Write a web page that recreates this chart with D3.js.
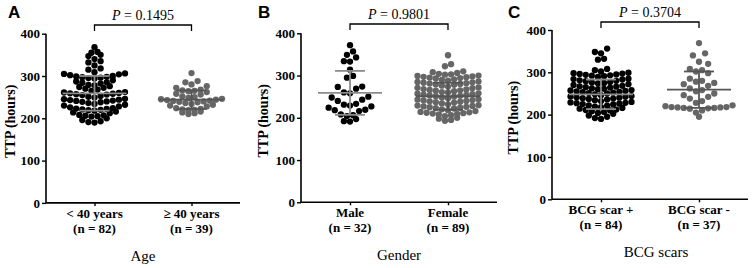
<!DOCTYPE html>
<html><head><meta charset="utf-8">
<script src="https://cdn.jsdelivr.net/npm/d3@7"></script>
<style>body{margin:0;background:#fff}svg{display:block}</style>
</head><body><svg id="c" width="752" height="268"></svg>
<script>
// ---------- DATA ----------
const panelLetters = ["A", "B", "C"];
const axisTitles = ["Age", "Gender", "BCG scars"];
const categoryNames = [["< 40 years", "\u2265 40 years"], ["Male", "Female"], ["BCG scar +", "BCG scar -"]];
const categoryCounts = [["(n = 82)", "(n = 39)"], ["(n = 32)", "(n = 89)"], ["(n = 84)", "(n = 37)"]];
const pValues = ["0.1495", "0.9801", "0.3704"];
const yTicks = [0, 100, 200, 300, 400];
const yLabel = "TTP (hours)";

const ageUnder40 = [368, 357,355, 350,347,340, 335,332,325, 318,315,309,
  306,305,304,302,300,299,298,297,296,295,294, 290,287,285,284,282,279,278,
  276,274,272,270,268,265, 262,261,260,259,258,257,256,255,253,251,249,
  246,245,244,243,242,241,240,239,238,236,234, 232,230,228,226,224,223,222,221,220,219,218,
  216,214,212,208,207,206,205,204, 200,196,193,191,190];
const ageOver40 = [307, 288,285,280, 276,272,268,266,265,264, 262,258,256,252,250,248,
  246,245,244,243,242,241,240,239,238,236,234, 232,230,228,224,222,221,220,219, 216,214,212,210];
const male = [372,357,349,343,334,333,314,299,295,274,273,269,260,258,250,248,243,240,
  233,231,229,227,224,219,218,216,208,206,204,197,192,191];
const female = [348, 327,322, 310,308,306,304,303,302,
  300,299,298,297,296,295,294,293,291,290,288, 286,285,284,283,282,281,280,279,278,276,274,
  272,271,270,268,267,266,265,264,263,261,260, 258,257,256,255,254,253,252,251,250,248,246,
  244,243,242,241,240,239,238,237,236,234,232, 230,229,228,227,226,225,224,223,222,220,218,
  216,214,213,212,211,210,209,208,206,204, 200,198,195,193];
const bcgPos = [356,348,345, 332,330, 308,305,302,
  299,298,297,296,295,294,293,292,291,289, 285,284,283,281,280,279,277,276,275,274,
  272,270,268,267,266,265,264,262,261,260, 258,257,256,255,254,253,252,251,250,248,246,
  244,243,242,241,240,239,238,237,236,234,232, 230,229,228,227,226,225,224,222,221,219,218,
  216,214,212,211,210,208,206,204, 202,198,195,192,190];
const bcgNeg = [369,345,340,325,320,308,305,302,298,285,280,278,275,272,268,262,258,
  255,250,246,242,238,232,228,222,220,218,218,217,217,216,216,215,214,210,205,195];
const groupValues = [[ageUnder40, ageOver40], [male, female], [bcgPos, bcgNeg]];
const groupMeans = [[259, 244], [259, 251], [248, 259]];
const groupSDs = [[41, 22], [52, 32], [35, 43]];

// ---------- LAYOUT ----------
const layout = [
  {x0: 46, x1: 240, yBot: 202.9, yTop: 33.7, bracketY: 25, letterX: 8, ylabX: 15, titleDx: 0},
  {x0: 301, x1: 497, yBot: 202.3, yTop: 33.3, bracketY: 24, letterX: 258, ylabX: 268, titleDx: 0},
  {x0: 552, x1: 748, yBot: 199.3, yTop: 30, bracketY: 22, letterX: 508, ylabX: 518, titleDx: 6}
];
const binSizes = [[15, 15], [24, 14], [14, 24]];   // row grouping, in data units
const dotColors = ["#000000", "#666666"];
const lineColors = ["#8c8c8c", "#555555"];
const serif = "'Liberation Serif','Times New Roman',serif";
const sans = "'Liberation Sans',Arial,sans-serif";
const R = 3.15;
const STEP = 6.1;

const svg = d3.select("#c");

// GraphPad-like scatter: group values into rows, lowest values in the centre, rising outwards
function swarm(values, y, cx, bin) {
  const rows = d3.group(values, v => Math.round(v / bin));
  const out = [];
  rows.forEach(pts => {
    pts = pts.slice().sort((a, b) => a - b);
    const n = pts.length;
    const slots = d3.range(n).map(j => (j - (n - 1) / 2) * STEP);
    slots.sort((a, b) => Math.abs(a) - Math.abs(b) || a - b);
    pts.forEach((v, j) => out.push({x: cx + slots[j], y: y(v)}));
  });
  return out;
}

layout.forEach((L, i) => {
  const g = svg.append("g");
  const y = d3.scaleLinear().domain([0, 400]).range([L.yBot, L.yTop]);
  const x = d3.scalePoint().domain(categoryNames[i]).range([L.x0, L.x1]).padding(0.5);

  const ya = g.append("g").attr("transform", `translate(${L.x0},0)`)
    .call(d3.axisLeft(y).tickValues(yTicks).tickSize(4).tickPadding(2).tickFormat(d3.format("d")));
  ya.select(".domain").attr("stroke", "#000").attr("stroke-width", 1.6).attr("d", `M0,${L.yBot}V${L.yTop}`);
  ya.selectAll(".tick line").attr("stroke", "#000").attr("stroke-width", 1.4);
  ya.selectAll(".tick text").attr("font-family", serif).attr("font-weight", "bold").attr("font-size", 13).attr("fill", "#000");

  const xa = g.append("g").attr("transform", `translate(0,${L.yBot})`)
    .call(d3.axisBottom(x).tickSize(3).tickFormat(""));
  xa.select(".domain").attr("stroke", "#000").attr("stroke-width", 1.6).attr("d", `M${L.x0},0H${L.x1}`);
  xa.selectAll(".tick line").attr("stroke", "#000").attr("stroke-width", 1.4);

  categoryNames[i].forEach((c, j) => {
    g.append("text").attr("x", x(c)).attr("y", L.yBot + 15)
      .attr("text-anchor", "middle").attr("font-family", serif).attr("font-weight", "bold")
      .attr("font-size", 13).attr("fill", "#000").text(c);
    g.append("text").attr("x", x(c)).attr("y", L.yBot + 30)
      .attr("text-anchor", "middle").attr("font-family", serif).attr("font-weight", "bold")
      .attr("font-size", 13).attr("fill", "#000").text(categoryCounts[i][j]);
  });

  g.append("text").attr("x", (L.x0 + L.x1) / 2 + L.titleDx).attr("y", L.yBot + 58)
    .attr("text-anchor", "middle").attr("font-family", serif).attr("font-size", 15).attr("fill", "#000")
    .text(axisTitles[i]);

  g.append("text").attr("transform", `translate(${L.ylabX},${(L.yBot + L.yTop) / 2 + 3}) rotate(-90)`)
    .attr("text-anchor", "middle").attr("font-family", serif).attr("font-weight", "bold")
    .attr("font-size", 14).attr("fill", "#000").text(yLabel);

  g.append("text").attr("x", L.letterX).attr("y", 18).attr("font-family", sans).attr("font-weight", "bold")
    .attr("font-size", 17).attr("fill", "#000").text(panelLetters[i]);

  const bx1 = x(categoryNames[i][0]), bx2 = x(categoryNames[i][1]);
  g.append("path").attr("d", `M${bx1},${L.bracketY + 6}V${L.bracketY}H${bx2}V${L.bracketY + 6}`)
    .attr("fill", "none").attr("stroke", "#000").attr("stroke-width", 1.3);
  const pt = g.append("text").attr("x", (bx1 + bx2) / 2).attr("y", L.bracketY - 5)
    .attr("text-anchor", "middle").attr("font-family", serif).attr("font-size", 14).attr("fill", "#000");
  pt.append("tspan").attr("font-style", "italic").text("P");
  pt.append("tspan").text(" = " + pValues[i]);

  groupValues[i].forEach((vals, j) => {
    const cx = x(categoryNames[i][j]);
    const pts = swarm(vals, y, cx, binSizes[i][j]);
    g.append("g").selectAll("circle").data(pts).join("circle")
      .attr("cx", d => d.x).attr("cy", d => d.y).attr("r", R).attr("fill", dotColors[j]);
    const m = groupMeans[i][j], s = groupSDs[i][j];
    const lg = g.append("g").attr("stroke", lineColors[j]).attr("stroke-width", 1.8).attr("fill", "none");
    lg.append("line").attr("x1", cx - 32).attr("x2", cx + 32).attr("y1", y(m)).attr("y2", y(m));
    lg.append("line").attr("x1", cx - 15).attr("x2", cx + 15).attr("y1", y(m + s)).attr("y2", y(m + s));
    lg.append("line").attr("x1", cx - 15).attr("x2", cx + 15).attr("y1", y(m - s)).attr("y2", y(m - s));
    lg.append("line").attr("x1", cx).attr("x2", cx).attr("y1", y(m + s)).attr("y2", y(m - s));
  });
});
</script></body></html>
